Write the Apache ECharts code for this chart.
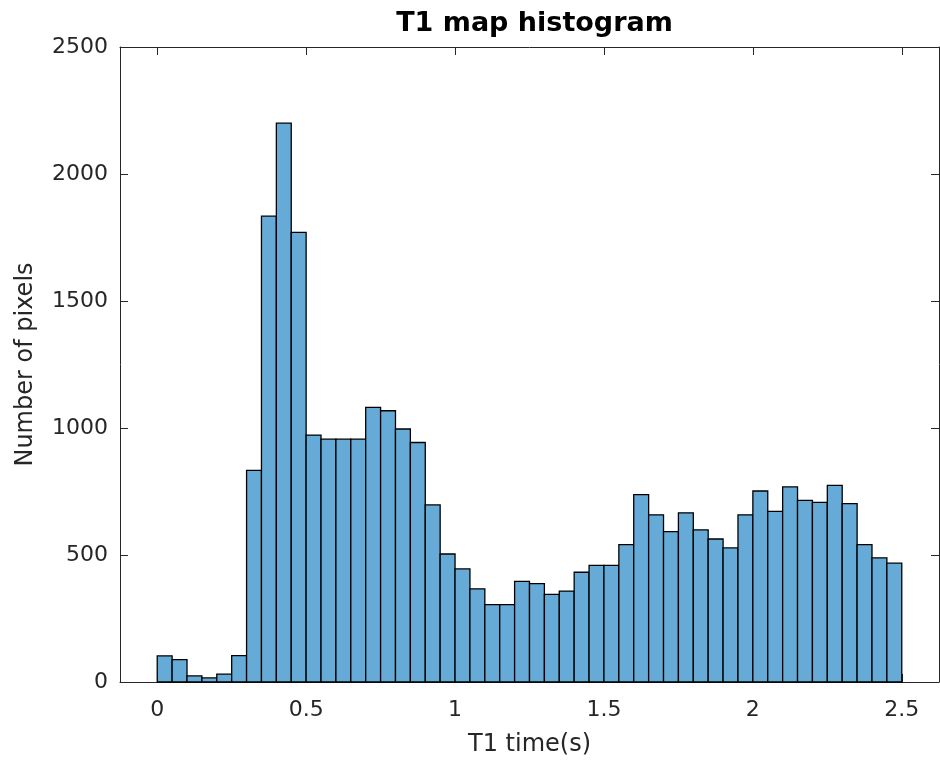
<!DOCTYPE html>
<html>
<head>
<meta charset="utf-8">
<script src="https://cdn.jsdelivr.net/npm/echarts@6/dist/echarts.min.js"></script>
<style>
  html, body { margin: 0; padding: 0; background: #ffffff; }
  #chart { width: 940px; height: 762px; }
</style>
</head>
<body>
<div id="chart"></div>
<script>
// Histogram of T1 relaxation times: 50 bins of 0.05 s from 0 to 2.5 s
const binStart = 0;
const binWidth = 0.05;
const counts = [
  103, 88, 24, 16, 31, 104, 833, 1834, 2200, 1770,
  972, 956, 956, 956, 1081, 1068, 996, 943, 697, 504,
  445, 367, 305, 305, 396, 387, 345, 358, 432, 459,
  459, 541, 738, 658, 592, 666, 599, 563, 528, 658,
  752, 672, 768, 715, 707, 774, 702, 541, 489, 468
];
const xTicks = [0, 0.5, 1, 1.5, 2, 2.5];
const yTicks = [0, 500, 1000, 1500, 2000, 2500];

const axisColor = '#262626';
const fontFamily = 'DejaVu Sans';

// [left edge, right edge, count] per bin
const bins = counts.map((c, i) => [
  +(binStart + i * binWidth).toFixed(3),
  +(binStart + (i + 1) * binWidth).toFixed(3),
  c
]);

const chart = echarts.init(document.getElementById('chart'), null, { renderer: 'canvas' });

const gridLeft = 120, gridRight = 1;
const plotCenterX = gridLeft + (940 - gridLeft - gridRight) / 2;

const xBase = {
  type: 'value',
  min: -0.125,
  max: 2.625,
  splitLine: { show: false },
  axisLine: { show: true, onZero: false, lineStyle: { color: axisColor, width: 1 } },
  axisTick: { show: true, inside: true, length: 8, customValues: xTicks, lineStyle: { color: axisColor } }
};
const yBase = {
  type: 'value',
  min: yTicks[0],
  max: yTicks[yTicks.length - 1],
  interval: 500,
  splitLine: { show: false },
  axisLine: { show: true, onZero: false, lineStyle: { color: axisColor, width: 1 } },
  axisTick: { show: true, inside: true, length: 8, lineStyle: { color: axisColor } }
};

chart.setOption({
  animation: false,
  backgroundColor: '#ffffff',
  title: {
    text: 'T1 map histogram',
    left: plotCenterX,
    textAlign: 'center',
    top: 5,
    textStyle: { fontFamily, fontSize: 27, fontWeight: 'bold', color: '#000000' }
  },
  grid: { left: gridLeft, right: gridRight, top: 47, bottom: 79, containLabel: false },
  xAxis: [
    Object.assign({}, xBase, {
      position: 'bottom',
      name: 'T1 time(s)',
      nameLocation: 'middle',
      nameGap: 51,
      nameTextStyle: { fontFamily, fontSize: 24, color: axisColor },
      axisLabel: {
        show: true, customValues: xTicks, margin: 17,
        fontFamily, fontSize: 22, color: axisColor,
        formatter: v => String(v)
      }
    }),
    Object.assign({}, xBase, {
      position: 'top',
      axisLabel: { show: false }
    })
  ],
  yAxis: [
    Object.assign({}, yBase, {
      position: 'left',
      name: 'Number of pixels',
      nameLocation: 'middle',
      nameGap: 82,
      nameTextStyle: { fontFamily, fontSize: 24, color: axisColor },
      axisLabel: {
        show: true, margin: 12, fontFamily, fontSize: 22, color: axisColor,
        formatter: v => String(v)
      }
    }),
    Object.assign({}, yBase, {
      position: 'right',
      axisLabel: { show: false }
    })
  ],
  series: [{
    type: 'custom',
    xAxisIndex: 0,
    yAxisIndex: 0,
    data: bins,
    encode: { x: [0, 1], y: 2 },
    renderItem: function (params, api) {
      const p0 = api.coord([api.value(0), 0]);
      const p1 = api.coord([api.value(1), api.value(2)]);
      return {
        type: 'rect',
        shape: { x: p0[0], y: p1[1], width: p1[0] - p0[0], height: p0[1] - p1[1] },
        style: { fill: '#66AAD7', stroke: '#000000', lineWidth: 1.3 }
      };
    }
  }]
});
</script>
</body>
</html>
